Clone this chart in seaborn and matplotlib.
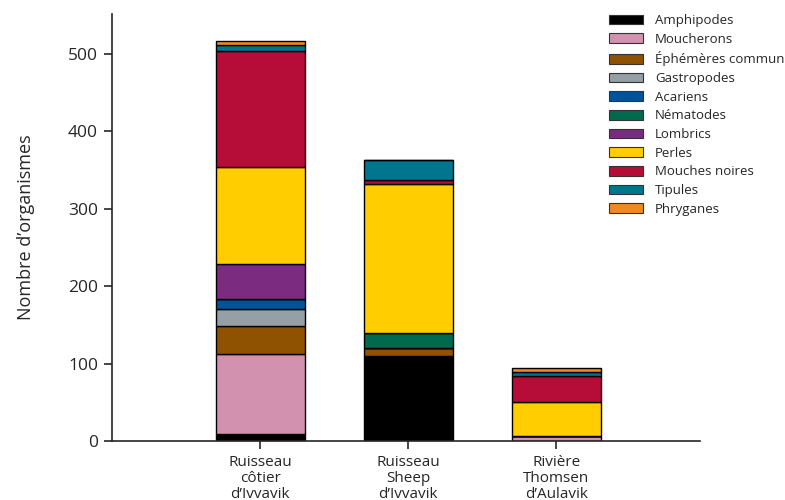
import pandas as pd
import matplotlib
matplotlib.use("Agg")
import matplotlib.pyplot as plt
import matplotlib.patches as mpatches
import seaborn as sns

sites = ["Ruisseau\ncôtier\nd’Ivvavik", "Ruisseau\nSheep\nd’Ivvavik", "Rivière\nThomsen\nd’Aulavik"]
groups = ["Amphipodes", "Moucherons", "Éphémères commun", "Gastropodes", "Acariens",
          "Nématodes", "Lombrics", "Perles", "Mouches noires", "Tipules", "Phryganes"]
colors = ["#000000", "#d391b0", "#8f5200", "#949fa6", "#00529b",
          "#006a4e", "#7b2c80", "#ffcd00", "#b50d38", "#00758f", "#ee8a21"]

# counts per group, one value per site
amphipodes = [9, 110, 0]
moucherons = [103, 0, 7]
ephemeres = [36, 10, 0]
gastropodes = [22, 0, 0]
acariens = [13, 0, 0]
nematodes = [0, 19, 0]
lombrics = [46, 0, 0]
perles = [124, 193, 43]
mouches_noires = [150, 5, 34]
tipules = [8, 25, 5]
phryganes = [5, 0, 5]

values = [amphipodes, moucherons, ephemeres, gastropodes, acariens, nematodes,
          lombrics, perles, mouches_noires, tipules, phryganes]

rows = []
for g, vals in zip(groups, values):
    for i, v in enumerate(vals):
        rows.append({"site": i, "groupe": g, "n": v})
df = pd.DataFrame(rows)

sns.set_style("ticks")
plt.rcParams["font.family"] = ["Open Sans", "DejaVu Sans"]

fig = plt.figure(figsize=(7.85, 5.0), dpi=100)
ax = fig.add_axes([112/785, 1-441/500, (700-112)/785, (441-14)/500])

# seaborn stacks the last hue level at the bottom, so reverse the order
sns.histplot(data=df, x="site", hue="groupe", weights="n", multiple="stack",
             discrete=True, shrink=0.6, hue_order=groups[::-1],
             palette=dict(zip(groups, colors)), alpha=1, edgecolor="black",
             linewidth=1, legend=False, ax=ax)

ax.set_xlim(-1.0, 2.97)
ax.set_ylim(0, 551)
ax.set_yticks([0, 100, 200, 300, 400, 500])
ax.set_xticks([0, 1, 2])
ax.set_xticklabels(sites, fontsize=11, linespacing=1.08)
ax.tick_params(axis="y", labelsize=12.5, length=6, width=1.2, pad=4)
ax.tick_params(axis="x", length=6, width=1.2, pad=4)
ax.set_xlabel("")
ax.set_ylabel("Nombre d’organismes", fontsize=13, labelpad=24)
for s in ["left", "bottom"]:
    ax.spines[s].set_linewidth(1.2)
sns.despine(ax=ax)

handles = [mpatches.Patch(facecolor=c, edgecolor="#333333", linewidth=0.8) for c in colors]
fig.legend(handles, groups, loc="upper left", bbox_to_anchor=(609/785, 1-14/500),
           frameon=False, fontsize=9.5, handlelength=2.55, handleheight=0.75,
           handletextpad=0.95, labelspacing=0.43, borderpad=0, borderaxespad=0)

fig.savefig("out.png", dpi=100)
